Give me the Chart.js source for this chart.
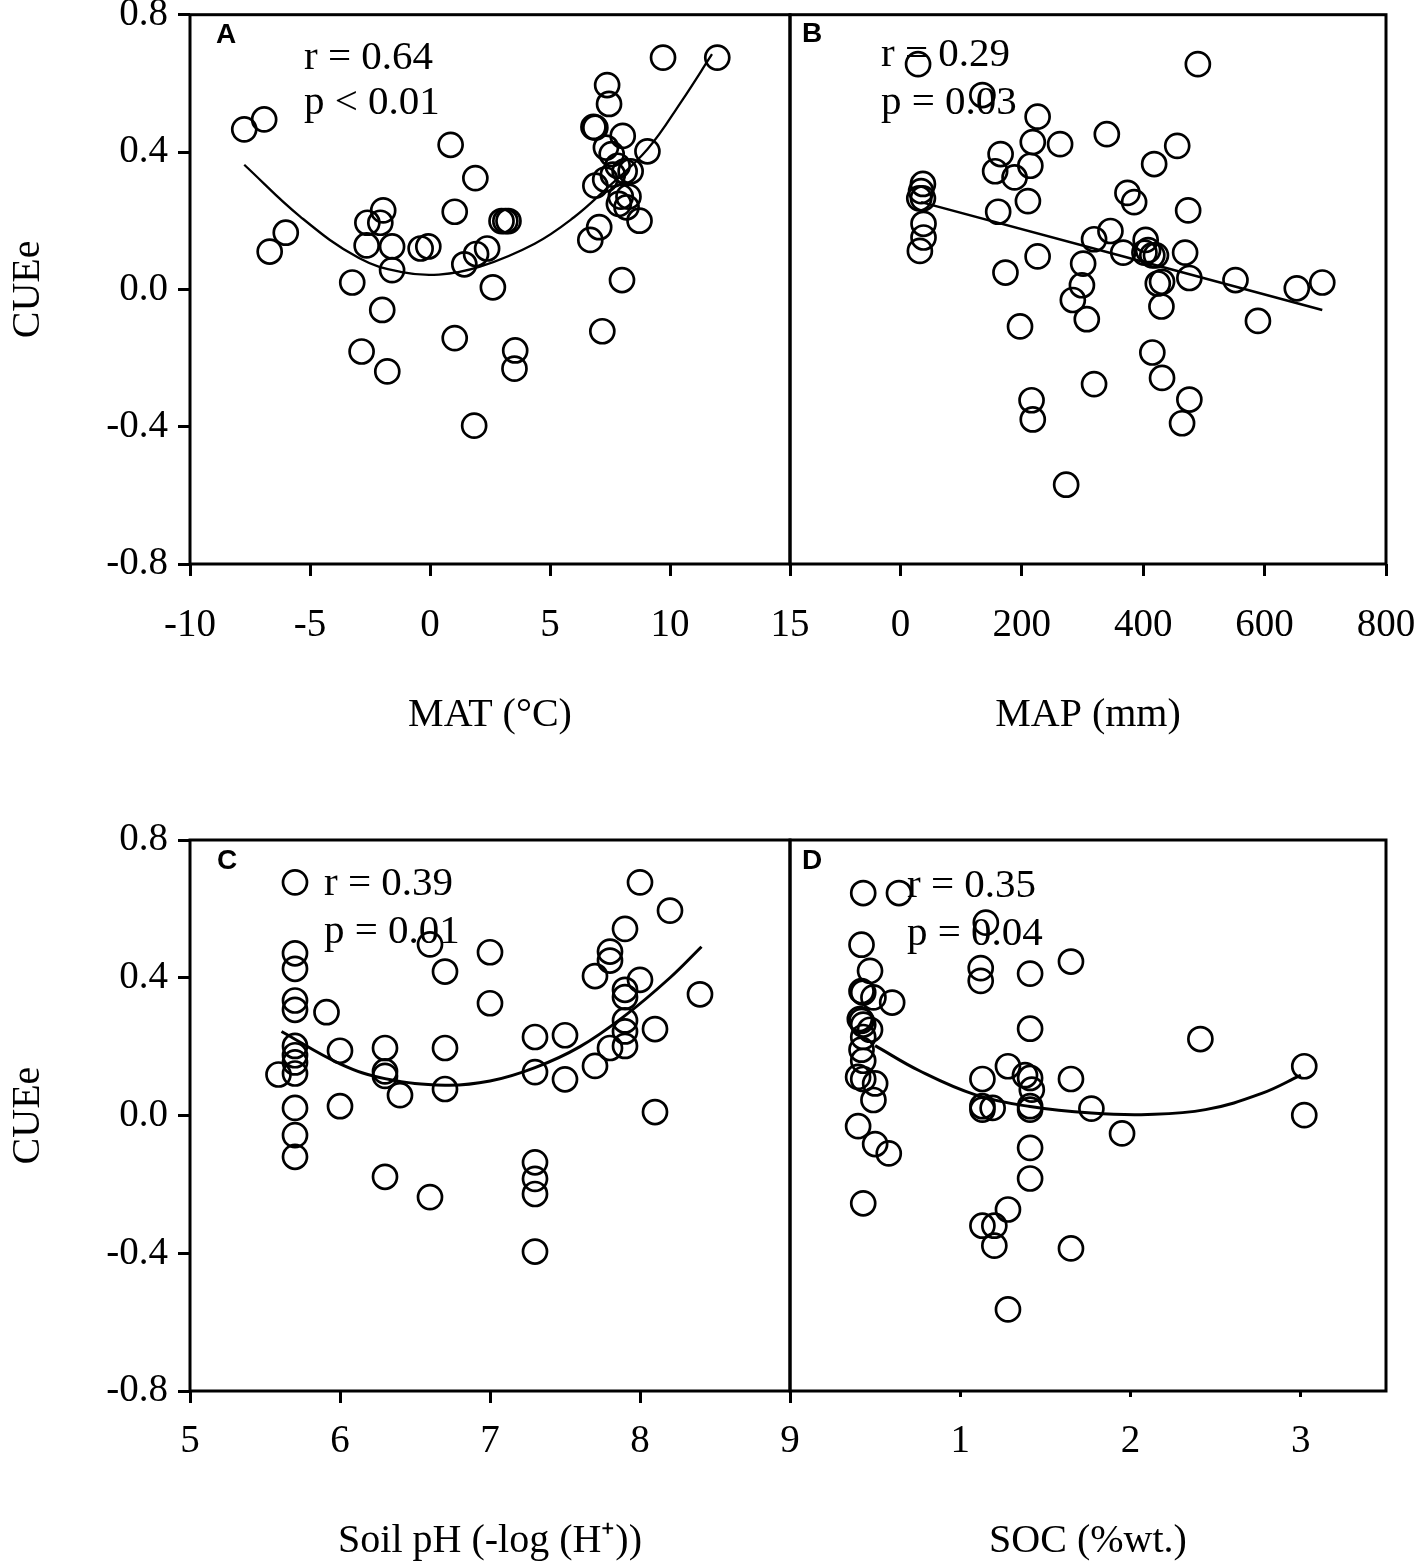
<!DOCTYPE html>
<html>
<head>
<meta charset="utf-8">
<title>CUEe vs MAT, MAP, soil pH and SOC</title>
<script src="https://cdn.jsdelivr.net/npm/chart.js@4.4.1/dist/chart.umd.min.js"></script>
<style>
  body { margin: 0; background: #fff; }
  .wrap { position: relative; width: 1418px; height: 1563px; }
  .wrap canvas { position: absolute; left: 0; top: 0; }
</style>
</head>
<body>
<div class="wrap">
  <canvas id="panelA" width="1418" height="1563"></canvas>
  <canvas id="panelB" width="1418" height="1563"></canvas>
  <canvas id="panelC" width="1418" height="1563"></canvas>
  <canvas id="panelD" width="1418" height="1563"></canvas>
</div>
<script>
// y axis shared by all panels
let yTicks = [-0.8, -0.4, 0, 0.4, 0.8];
let yLabels = ['-0.8', '-0.4', '0.0', '0.4', '0.8'];

// A: CUEe vs MAT (°C)
let matTicks = [-10, -5, 0, 5, 10, 15];
let matLabels = ['-10', '-5', '0', '5', '10', '15'];
let matPoints = [[-7.74,0.466],[-6.91,0.495],[-6.68,0.11],[-6.01,0.165],[-3.24,0.02],[-2.85,-0.181],
  [-2.61,0.194],[-2.64,0.128],[-1.95,0.23],[-2.07,0.194],[-1.58,0.125],[-1.58,0.056],[-1.99,-0.06],
  [-1.78,-0.239],[-0.39,0.119],[-0.07,0.125],[0.86,0.421],[1.03,0.226],[1.03,-0.142],[1.43,0.073],
  [1.89,0.324],[1.84,-0.397],[1.92,0.103],[2.38,0.119],[2.62,0.006],[2.98,0.199],[3.14,0.199],
  [3.27,0.199],[3.55,-0.178],[3.52,-0.231],[6.68,0.144],[7.05,0.181],[6.89,0.302],[6.81,0.473],
  [6.89,0.471],[7.18,-0.122],[7.38,0.595],[7.46,0.54],[7.33,0.413],[8.03,0.447],[7.57,0.394],
  [7.82,0.36],[8.11,0.344],[8.36,0.344],[7.3,0.32],[7.62,0.334],[7.95,0.27],[8.27,0.27],
  [7.87,0.249],[8.19,0.239],[8.73,0.2],[8.0,0.027],[9.06,0.402],[9.71,0.675],[11.97,0.675]];
let matFit = [[-7.74,0.363],[-5.41,0.212],[-2.96,0.091],[-1.17,0.05],[0.37,0.043],[2.08,0.066],
  [4.36,0.133],[6.0,0.21],[7.3,0.29],[9.06,0.408],[10.5,0.55],[11.75,0.685]];

// B: CUEe vs MAP (mm)
let mapTicks = [0, 200, 400, 600, 800];
let mapLabels = ['0', '200', '400', '600', '800'];
let mapPoints = [[29,0.656],[490,0.656],[37,0.307],[34,0.286],[31,0.265],[37,0.265],[38,0.191],
  [38,0.151],[32,0.112],[135,0.566],[226,0.503],[218,0.429],[263,0.423],[165,0.394],[156,0.344],
  [188,0.326],[214,0.36],[210,0.257],[161,0.226],[226,0.096],[173,0.049],[197,-0.108],[216,-0.323],
  [218,-0.379],[340,0.452],[456,0.418],[418,0.365],[374,0.281],[385,0.254],[474,0.23],[346,0.17],
  [319,0.146],[367,0.107],[404,0.144],[408,0.114],[402,0.107],[415,0.099],[421,0.099],[469,0.107],
  [301,0.075],[299,0.012],[284,-0.031],[307,-0.087],[424,0.017],[431,0.022],[476,0.033],[430,-0.05],
  [552,0.027],[653,0.003],[695,0.02],[589,-0.092],[415,-0.184],[431,-0.258],[319,-0.276],
  [476,-0.321],[464,-0.39],[273,-0.569]];
let mapFit = [[34,0.254],[695,-0.06]];

// C: CUEe vs soil pH
let phTicks = [5, 6, 7, 8, 9];
let phLabels = ['5', '6', '7', '8', '9'];
let phPoints = [[5.7,0.677],[5.7,0.471],[5.7,0.426],[5.7,0.334],[5.7,0.307],[5.91,0.3],[5.7,0.202],
  [5.7,0.175],[5.7,0.154],[5.59,0.119],[5.7,0.122],[5.7,0.022],[5.7,-0.057],[5.7,-0.12],[6.0,0.188],
  [6.0,0.027],[6.3,0.196],[6.3,0.128],[6.3,0.115],[6.3,-0.178],[6.4,0.059],[6.6,0.497],[6.6,-0.237],
  [6.7,0.418],[6.7,0.196],[6.7,0.077],[7.0,0.474],[7.0,0.326],[7.3,0.228],[7.3,0.126],[7.3,-0.136],
  [7.3,-0.184],[7.3,-0.228],[7.3,-0.395],[7.5,0.233],[7.5,0.105],[7.7,0.405],[7.7,0.144],[7.8,0.476],
  [7.8,0.45],[7.8,0.196],[7.9,0.542],[7.9,0.365],[7.9,0.344],[7.9,0.276],[7.9,0.244],[7.9,0.202],
  [8.0,0.677],[8.0,0.394],[8.1,0.251],[8.1,0.01],[8.2,0.595],[8.4,0.352]];
let phFit = [[5.61,0.244],[6.0,0.15],[6.3,0.107],[6.7,0.088],[7.0,0.1],[7.3,0.139],[7.6,0.2],
  [7.9,0.29],[8.2,0.4],[8.41,0.49]];

// D: CUEe vs SOC (%wt.)
let socTicks = [1, 2, 3];
let socLabels = ['1', '2', '3'];
let socPoints = [[0.43,0.646],[0.64,0.646],[1.15,0.56],[0.42,0.496],[1.12,0.428],[1.12,0.391],
  [1.41,0.412],[1.65,0.447],[0.47,0.42],[0.42,0.361],[0.43,0.357],[0.49,0.343],[0.6,0.328],
  [0.41,0.28],[0.42,0.275],[0.43,0.264],[0.47,0.249],[0.43,0.228],[0.42,0.191],[0.43,0.159],
  [0.4,0.112],[0.43,0.106],[0.5,0.093],[0.49,0.045],[0.4,-0.031],[0.5,-0.083],[0.58,-0.11],
  [0.43,-0.255],[1.41,0.252],[2.41,0.222],[3.02,0.143],[3.02,0.001],[1.28,0.143],[1.13,0.106],
  [1.38,0.117],[1.41,0.109],[1.42,0.075],[1.65,0.106],[1.13,0.027],[1.13,0.017],[1.19,0.022],
  [1.41,0.027],[1.41,0.017],[1.77,0.02],[1.95,-0.052],[1.41,-0.094],[1.41,-0.183],[1.28,-0.273],
  [1.13,-0.32],[1.2,-0.32],[1.2,-0.378],[1.65,-0.386],[1.28,-0.563]];
let socFit = [[0.5,0.203],[0.76,0.13],[1.09,0.06],[1.41,0.026],[1.77,0.007],[2.1,0.003],
  [2.44,0.017],[2.77,0.064],[3.0,0.117]];

let serif = '"Liberation Serif", "Times New Roman", Times, serif';
Chart.defaults.font.family = serif;
Chart.defaults.color = '#000';

// frame, panel letter and r / p text
const panelText = {
  id: 'panelText',
  afterDraw(chart, args, opts) {
    const { ctx, chartArea: a } = chart;
    ctx.save();
    ctx.strokeStyle = '#000';
    ctx.lineWidth = 3;
    ctx.strokeRect(a.left, a.top, a.right - a.left, a.bottom - a.top);
    ctx.fillStyle = '#000';
    ctx.font = 'bold 28px "Liberation Sans", Arial, sans-serif';
    ctx.textAlign = 'center';
    ctx.textBaseline = 'middle';
    ctx.fillText(opts.letter, a.left + opts.letterAt[0], a.top + opts.letterAt[1]);
    ctx.font = '41px ' + serif;
    ctx.textAlign = 'left';
    opts.lines.forEach((t, i) => {
      ctx.fillText(t, a.left + opts.textAt[0], a.top + opts.textAt[1] + i * opts.gap);
    });
    ctx.restore();
  }
};

function toXY(pairs) {
  return pairs.map(p => ({ x: p[0], y: p[1] }));
}

function makePanel(id, p) {
  let W = 1418, H = 1563;
  let tickFont = { size: 39, family: serif };
  let titleFont = { size: 40, family: serif };
  return new Chart(document.getElementById(id), {
    type: 'scatter',
    data: {
      datasets: [{
        data: toXY(p.points),
        pointStyle: 'circle',
        pointRadius: 12,
        borderWidth: 2.7,
        borderColor: '#000',
        backgroundColor: 'rgba(0,0,0,0)',
        clip: false
      }, {
        data: toXY(p.fit),
        showLine: true,
        pointRadius: 0,
        borderColor: '#000',
        borderWidth: p.fitWidth,
        tension: 0.4,
        fill: false
      }]
    },
    options: {
      responsive: false,
      animation: false,
      devicePixelRatio: 1,
      events: [],
      layout: {
        padding: { left: 0, top: p.area.top, right: W - p.area.right, bottom: H - p.area.bottom - p.axisH }
      },
      scales: {
        x: {
          type: 'linear',
          min: p.xMin,
          max: p.xMax,
          afterBuildTicks: s => { s.ticks = p.xTicks.map(v => ({ value: v })); },
          afterFit: s => { s.height = p.axisH; s.paddingLeft = 0; s.paddingRight = 0; },
          ticks: {
            autoSkip: false, maxRotation: 0, padding: p.tickPad, font: tickFont, color: '#000',
            callback: (v, i) => p.xLabels[i]
          },
          grid: { drawOnChartArea: false, drawTicks: true, tickLength: p.tickLen, color: '#000', lineWidth: 3 },
          border: { display: false },
          title: { display: true, text: p.xTitle, font: titleFont, color: '#000', padding: { top: 0, bottom: p.titlePad } }
        },
        y: {
          type: 'linear',
          min: -0.8,
          max: 0.8,
          afterBuildTicks: s => { s.ticks = yTicks.map(v => ({ value: v })); },
          afterFit: s => { s.width = p.area.left; s.paddingTop = 0; s.paddingBottom = 0; },
          ticks: {
            display: p.showY, padding: 10, font: tickFont, color: '#000',
            callback: (v, i) => yLabels[i]
          },
          grid: { display: p.showY, drawOnChartArea: false, drawTicks: true, tickLength: 12, color: '#000', lineWidth: 3 },
          border: { display: false },
          title: { display: p.showY, text: 'CUEe', font: titleFont, color: '#000', padding: { top: 4, bottom: 0 } }
        }
      },
      plugins: {
        legend: { display: false },
        tooltip: { enabled: false },
        panelText: { letter: p.letter, letterAt: p.letterAt, lines: p.lines, textAt: p.textAt, gap: p.gap }
      }
    },
    plugins: [panelText]
  });
}

makePanel('panelA', {
  points: matPoints, fit: matFit, xMin: -10, xMax: 15, xTicks: matTicks, xLabels: matLabels,
  xTitle: 'MAT (°C)', showY: true, area: { left: 190, right: 790, top: 14, bottom: 564 },
  axisH: 172, tickPad: 26, tickLen: 12, titlePad: -3, fitWidth: 2.3,
  letter: 'A', letterAt: [36, 21], lines: ['r = 0.64', 'p < 0.01'], textAt: [114, 44], gap: 45
});
makePanel('panelB', {
  points: mapPoints, fit: mapFit, xMin: -182, xMax: 800, xTicks: mapTicks, xLabels: mapLabels,
  xTitle: 'MAP (mm)', showY: false, area: { left: 790, right: 1386, top: 14, bottom: 564 },
  axisH: 172, tickPad: 26, tickLen: 12, titlePad: -3, fitWidth: 2.5,
  letter: 'B', letterAt: [22, 20], lines: ['r = 0.29', 'p = 0.03'], textAt: [91, 41], gap: 48
});
makePanel('panelC', {
  points: phPoints, fit: phFit, xMin: 5, xMax: 9, xTicks: phTicks, xLabels: phLabels,
  xTitle: 'Soil pH (-log (H\u207A))', showY: true, area: { left: 190, right: 790, top: 840, bottom: 1391 },
  axisH: 168, tickPad: 15, tickLen: 12, titlePad: -6, fitWidth: 3,
  letter: 'C', letterAt: [37, 21], lines: ['r = 0.39', 'p = 0.01'], textAt: [134, 44], gap: 48
});
makePanel('panelD', {
  points: socPoints, fit: socFit, xMin: 0, xMax: 3.5, xTicks: socTicks, xLabels: socLabels,
  xTitle: 'SOC (%wt.)', showY: false, area: { left: 790, right: 1386, top: 840, bottom: 1391 },
  axisH: 168, tickPad: 21, tickLen: 6, titlePad: -6, fitWidth: 3,
  letter: 'D', letterAt: [22, 21], lines: ['r = 0.35', 'p = 0.04'], textAt: [117, 46], gap: 48
});
</script>
</body>
</html>
